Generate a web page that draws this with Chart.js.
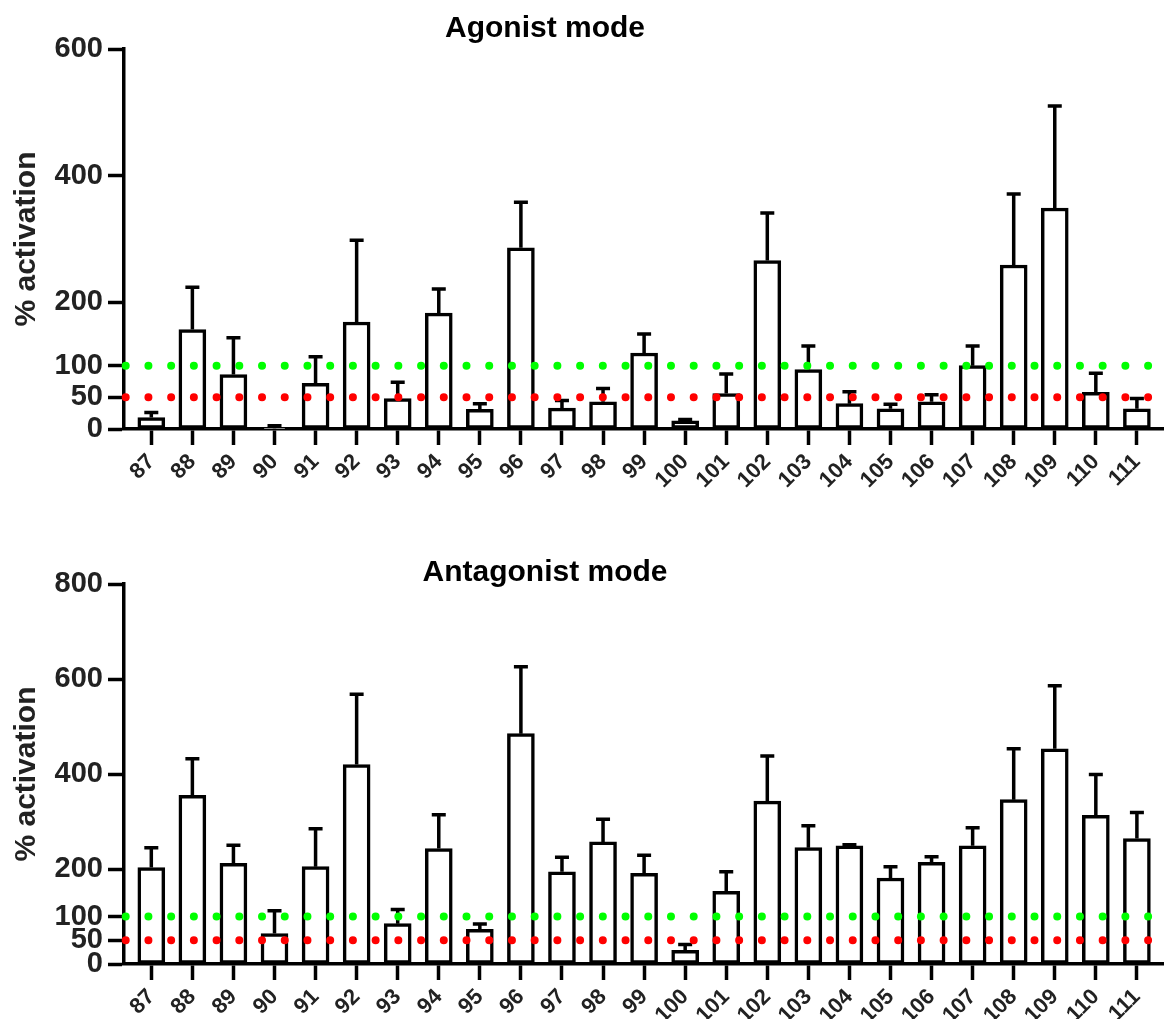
<!DOCTYPE html>
<html>
<head>
<meta charset="utf-8">
<title>% activation – agonist and antagonist mode</title>
<script src="https://cdn.jsdelivr.net/npm/chart.js@4"></script>
<style>
  html, body { margin: 0; padding: 0; background: #fff; }
  #wrap { position: relative; width: 1164px; height: 1019px; overflow: hidden; }
  canvas { position: absolute; left: 0; display: block; }
  #agonist { top: 0; }
  #antagonist { top: 510px; }
</style>
</head>
<body>
<div id="wrap">
  <canvas id="agonist" width="1164" height="510"></canvas>
  <canvas id="antagonist" width="1164" height="509"></canvas>
</div>
<script>
// Compound numbers on the x axis
const compounds = ['87','88','89','90','91','92','93','94','95','96','97','98','99',
                   '100','101','102','103','104','105','106','107','108','109','110','111'];

// Agonist mode: mean % activation and error (upper bar)
const agonistMean = [18, 157, 86, 1, 72, 169, 48, 183, 31, 286, 33, 43, 120,
                     13, 56, 266, 94, 40, 32, 43, 100, 259, 349, 58, 32];
const agonistErr  = [8, 67, 58, 4, 42, 129, 26, 38, 9, 72, 12, 21, 30,
                     2, 31, 75, 37, 19, 7, 11, 31, 112, 161, 30, 16];

// Antagonist mode: mean % activation and error (upper bar)
const antagonistMean = [203, 355, 212, 64, 205, 420, 85, 243, 73, 485, 194, 257, 191,
                        29, 153, 343, 245, 249, 181, 214, 249, 346, 453, 313, 264];
const antagonistErr  = [42, 77, 38, 48, 80, 148, 30, 71, 11, 141, 31, 48, 38,
                        12, 41, 95, 46, 2, 24, 12, 38, 107, 133, 86, 55];

// Y tick values for each panel
const agonistTicks = [0, 50, 100, 200, 400, 600];
const antagonistTicks = [0, 50, 100, 200, 400, 600, 800];

// Reference levels drawn as dotted lines
const thresholdValues = [100, 50];
const thresholdColors = ['#00ff00', '#ff0000'];

const FONT = '"Liberation Sans", Arial, Helvetica, sans-serif';

// Error bars: vertical whisker from the bar top plus a horizontal cap
const errorBarPlugin = {
  id: 'errorBars',
  afterDatasetsDraw(chart, args, opts) {
    const ctx = chart.ctx;
    const yScale = chart.scales.y;
    chart.data.datasets.forEach((ds, di) => {
      if (!ds.errors) return;
      const meta = chart.getDatasetMeta(di);
      meta.data.forEach((bar, i) => {
        const v = ds.data[i].y;
        const top = yScale.getPixelForValue(v + ds.errors[i]);
        ctx.save();
        ctx.strokeStyle = opts.color;
        ctx.lineWidth = opts.width;
        ctx.lineCap = 'butt';
        ctx.beginPath();
        ctx.moveTo(bar.x, bar.y);
        ctx.lineTo(bar.x, top);
        ctx.moveTo(bar.x - opts.capHalf, top);
        ctx.lineTo(bar.x + opts.capHalf, top);
        ctx.stroke();
        ctx.restore();
      });
    });
  }
};

// Dotted horizontal reference lines, drawn over the bars
const refLinePlugin = {
  id: 'refLines',
  afterDatasetsDraw(chart, args, opts) {
    const ctx = chart.ctx;
    const area = chart.chartArea;
    const yScale = chart.scales.y;
    thresholdValues.forEach((val, k) => {
      const py = yScale.getPixelForValue(val);
      ctx.save();
      ctx.setLineDash([0, opts.spacing]);
      ctx.lineCap = 'round';
      ctx.lineWidth = opts.dotSize;
      ctx.strokeStyle = thresholdColors[k];
      ctx.beginPath();
      ctx.moveTo(area.left + opts.startInset, py);
      ctx.lineTo(area.right - opts.endInset, py);
      ctx.stroke();
      ctx.restore();
    });
  }
};

// Panel heading
const panelTitlePlugin = {
  id: 'panelTitle',
  afterDraw(chart, args, opts) {
    const ctx = chart.ctx;
    ctx.save();
    ctx.font = 'bold 30px ' + FONT;
    ctx.fillStyle = '#000';
    ctx.textAlign = 'center';
    ctx.textBaseline = 'alphabetic';
    ctx.fillText(opts.text, opts.x, opts.baseline);
    ctx.restore();
  }
};

function makeChart(canvasId, title, titleBaseline, means, errs, yTicks, yMax, padTop, xAxisHeight) {
  const ctx = document.getElementById(canvasId).getContext('2d');
  return new Chart(ctx, {
    type: 'bar',
    data: {
      datasets: [{
        data: means.map((v, i) => ({ x: i, y: v })),
        errors: errs,
        backgroundColor: '#ffffff',
        borderColor: '#000000',
        borderWidth: 3.5,
        borderSkipped: false,
        barThickness: 27
      }]
    },
    plugins: [errorBarPlugin, refLinePlugin, panelTitlePlugin],
    options: {
      responsive: false,
      animation: false,
      devicePixelRatio: 1,
      events: [],
      layout: { padding: { top: padTop, left: 0, right: 0, bottom: 0 } },
      plugins: {
        legend: { display: false },
        tooltip: { enabled: false },
        title: { display: false },
        errorBars: { color: '#000', width: 3.5, capHalf: 7 },
        refLines: { spacing: 22.72, dotSize: 8, startInset: 1.7, endInset: 14 },
        panelTitle: { text: title, x: 545, baseline: titleBaseline }
      },
      scales: {
        x: {
          type: 'linear',
          min: -0.665,
          max: 24.66,
          offset: false,
          afterBuildTicks: s => { s.ticks = compounds.map((_, i) => ({ value: i })); },
          afterFit: s => { s.height = xAxisHeight; },
          border: { display: true, color: '#000', width: 3.5 },
          grid: { display: true, offset: false, drawOnChartArea: false, drawTicks: true,
                  tickLength: 16, tickWidth: 3.5, tickColor: '#000' },
          ticks: {
            autoSkip: false, maxRotation: 45, minRotation: 45, padding: 4,
            color: '#222', font: { family: FONT, size: 22, weight: 'bold' },
            callback: v => compounds[v]
          }
        },
        y: {
          min: 0,
          max: yMax,
          afterBuildTicks: s => { s.ticks = yTicks.map(v => ({ value: v })); },
          afterFit: s => { s.width = 124; },
          border: { display: true, color: '#000', width: 3.5 },
          grid: { display: true, drawOnChartArea: false, drawTicks: true,
                  tickLength: 16, tickWidth: 3.5, tickColor: '#000' },
          ticks: {
            autoSkip: false, padding: 5, color: '#222',
            font: { family: FONT, size: 29, weight: 'bold' }
          },
          title: {
            display: true, text: '% activation', color: '#222',
            font: { family: FONT, size: 30, weight: 'bold' },
            padding: { top: 9, bottom: 0 }
          }
        }
      }
    }
  });
}

makeChart('agonist', 'Agonist mode', 37, agonistMean, agonistErr,
          agonistTicks, 600, 49, 81);
makeChart('antagonist', 'Antagonist mode', 71, antagonistMean, antagonistErr,
          antagonistTicks, 800, 74, 55);
</script>
</body>
</html>
